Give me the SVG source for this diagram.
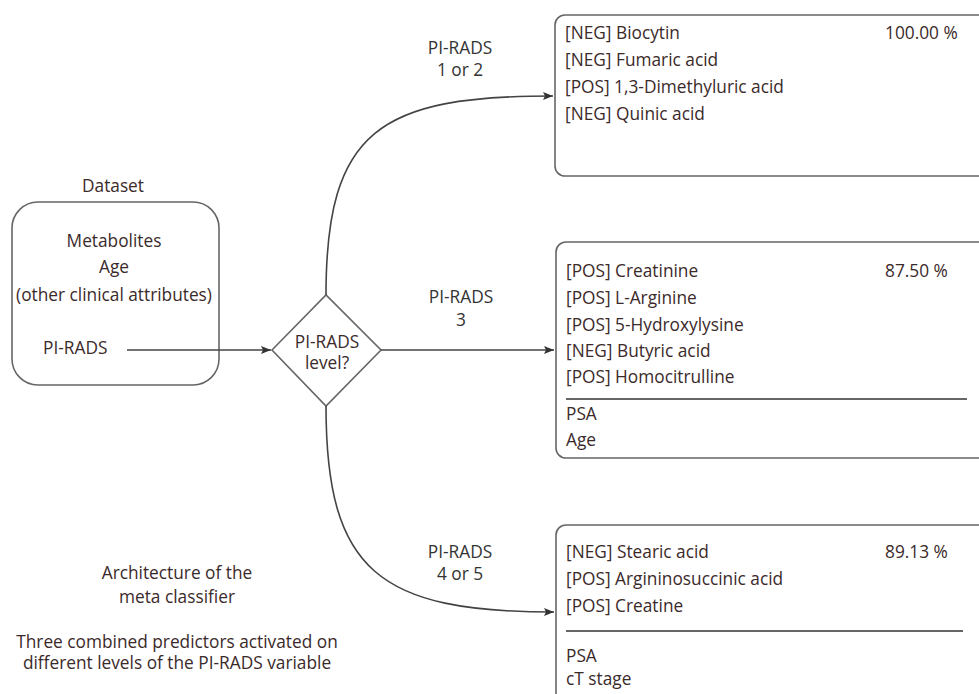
<svg xmlns="http://www.w3.org/2000/svg" width="979" height="694" viewBox="0 0 979 694">
<style>
text{font-family:"Open Sans","Noto Sans","Liberation Sans",sans-serif;font-size:17.3px;fill:#3b2a2a}
.c{text-anchor:middle}
.lbl{fill:#333}
.box{fill:#fff;stroke:#666;stroke-width:1.6}
.sep{stroke:#666;stroke-width:1.8}
.conn{fill:none;stroke:#444;stroke-width:1.6}
</style>
<defs>
<marker id="ah" viewBox="0 0 10 10" refX="10" refY="5" markerWidth="10" markerHeight="10" markerUnits="userSpaceOnUse" orient="auto">
<path d="M0,1 L10,5 L0,9 L2,5 Z" fill="#333"/>
</marker>
</defs>
<rect width="979" height="694" fill="#fff"/>
<g id="dataset">
<text class="c" x="113" y="192">Dataset</text>
<rect class="box" x="12" y="202" width="207" height="183" rx="26"/>
<text class="c" x="114" y="247">Metabolites</text>
<text class="c" x="114" y="273">Age</text>
<text class="c" x="114" y="301">(other clinical attributes)</text>
<text x="43" y="354">PI-RADS</text>
</g>
<g id="decision">
<polygon class="box" points="272,350 326,295 381,350 326,406"/>
<text class="c" x="327" y="348">PI-RADS</text>
<text class="c" x="327" y="369">level?</text>
</g>
<g id="pred12">
<rect class="box" x="555" y="15" width="440" height="161" rx="10"/>
<text x="565" y="39">[NEG] Biocytin</text>
<text x="565" y="66">[NEG] Fumaric acid</text>
<text x="565" y="93">[POS] 1,3-Dimethyluric acid</text>
<text x="565" y="120">[NEG] Quinic acid</text>
<text x="885" y="39">100.00 %</text>
</g>
<g id="pred3">
<rect class="box" x="556" y="242" width="440" height="216" rx="10"/>
<text x="566" y="277">[POS] Creatinine</text>
<text x="566" y="304">[POS] L-Arginine</text>
<text x="566" y="331">[POS] 5-Hydroxylysine</text>
<text x="566" y="357">[NEG] Butyric acid</text>
<text x="566" y="383">[POS] Homocitrulline</text>
<line class="sep" x1="566" y1="399" x2="967" y2="399"/>
<text x="566" y="420">PSA</text>
<text x="566" y="446">Age</text>
<text x="885" y="277">87.50 %</text>
</g>
<g id="pred45">
<rect class="box" x="556" y="525" width="440" height="190" rx="10"/>
<text x="566" y="558">[NEG] Stearic acid</text>
<text x="566" y="585">[POS] Argininosuccinic acid</text>
<text x="566" y="612">[POS] Creatine</text>
<line class="sep" x1="566" y1="631" x2="963" y2="631"/>
<text x="566" y="662">PSA</text>
<text x="566" y="685">cT stage</text>
<text x="885" y="558">89.13 %</text>
</g>
<g id="connectors">
<line class="conn" x1="127" y1="350" x2="271" y2="350" marker-end="url(#ah)"/>
<path class="conn" d="M326,295 C326,130 380,96 553,96" marker-end="url(#ah)"/>
<line class="conn" x1="381" y1="350" x2="554" y2="350" marker-end="url(#ah)"/>
<path class="conn" d="M326,406 C326,572 380,612 554,612" marker-end="url(#ah)"/>
<text class="c lbl" x="460" y="54">PI-RADS</text>
<text class="c lbl" x="460" y="76">1 or 2</text>
<text class="c lbl" x="461" y="303">PI-RADS</text>
<text class="c lbl" x="461" y="326">3</text>
<text class="c lbl" x="460" y="558">PI-RADS</text>
<text class="c lbl" x="460" y="580">4 or 5</text>
</g>
<g id="caption">
<text class="c" x="177" y="579">Architecture of the</text>
<text class="c" x="177" y="603">meta classifier</text>
<text class="c" x="177" y="648">Three combined predictors activated on</text>
<text class="c" x="177" y="669">different levels of the PI-RADS variable</text>
</g>
</svg>
